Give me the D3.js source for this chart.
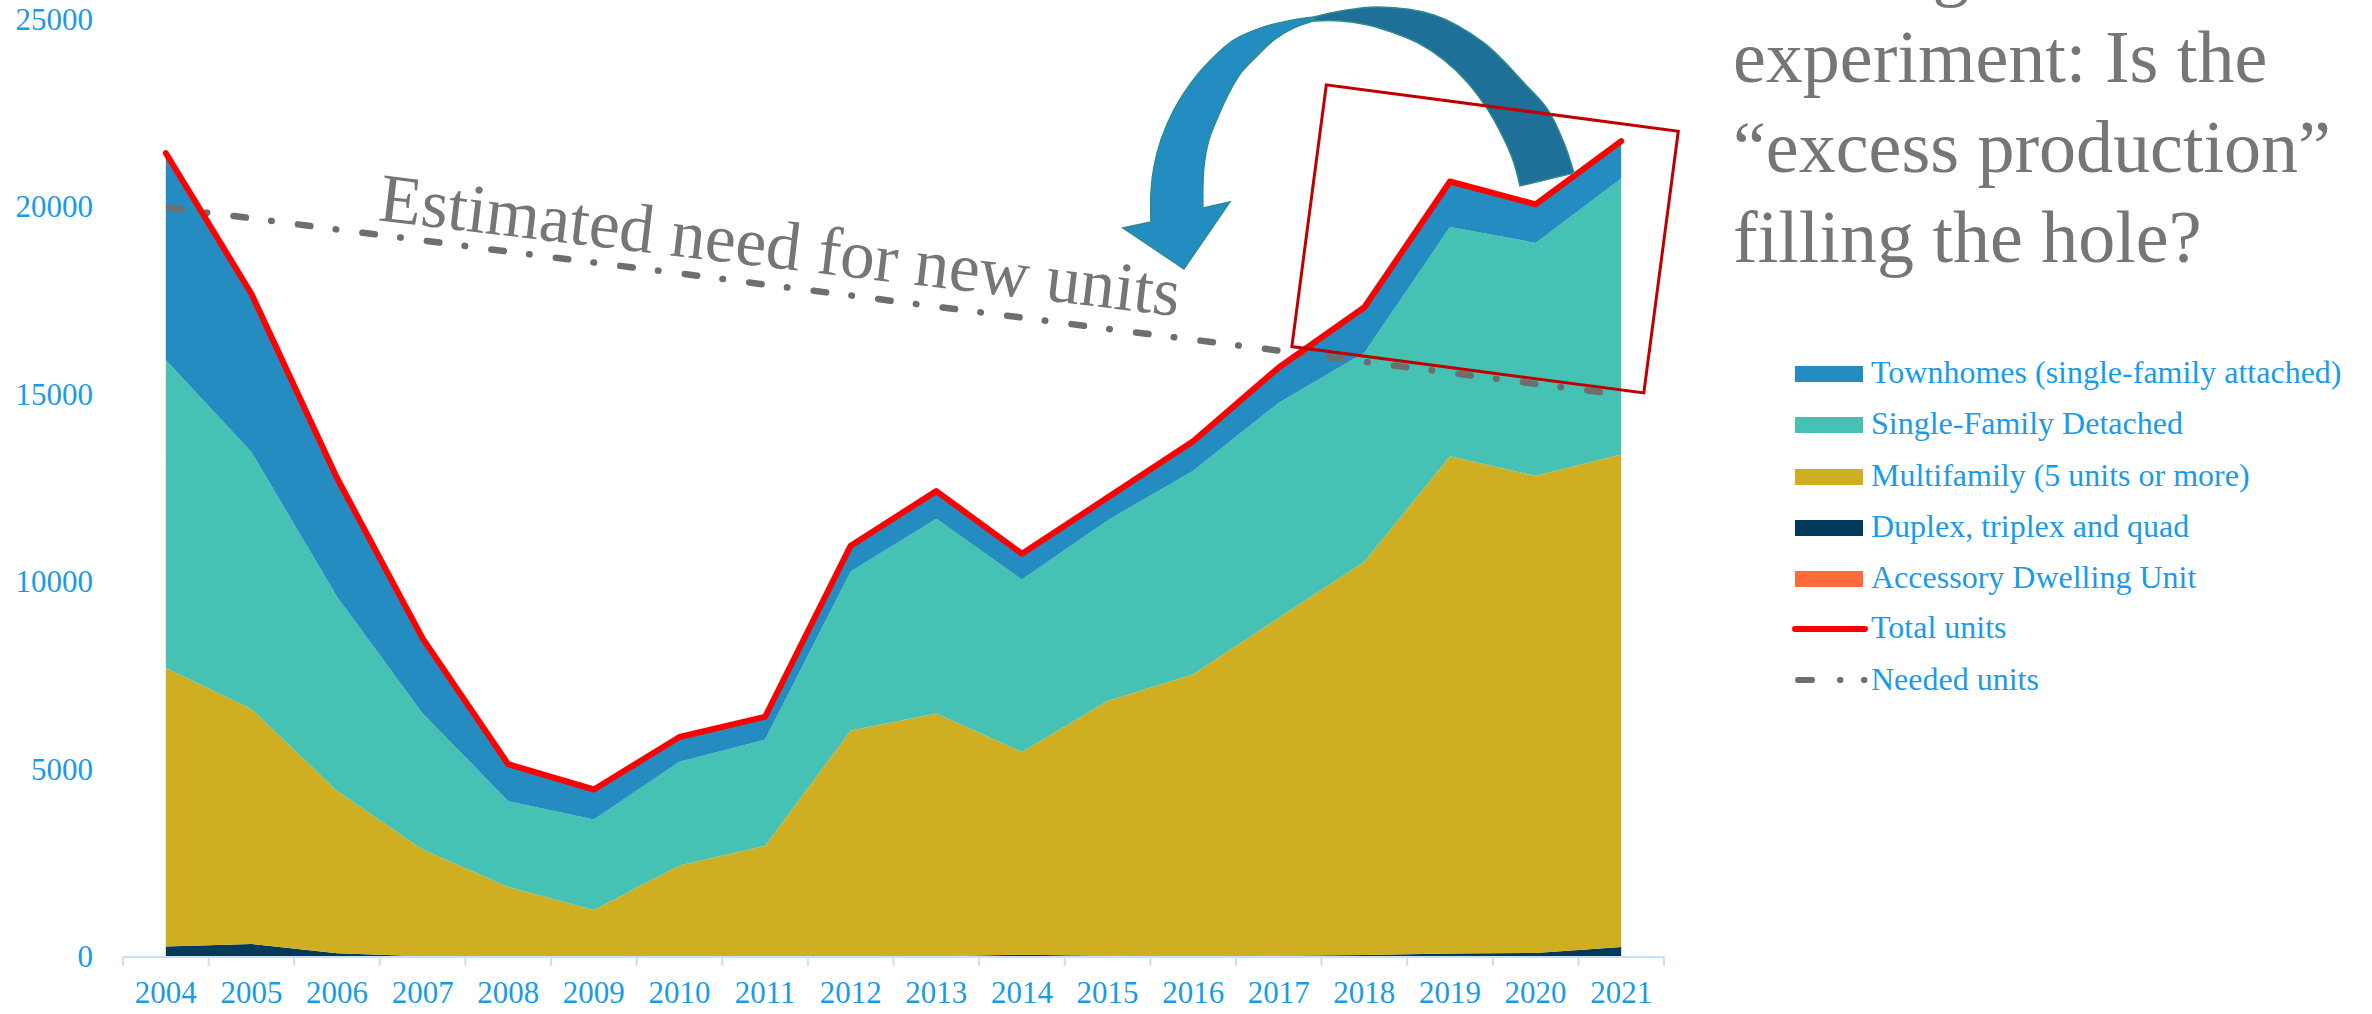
<!DOCTYPE html>
<html>
<head>
<meta charset="utf-8">
<script src="https://cdn.jsdelivr.net/npm/d3@7"></script>
<style>
  html, body { margin: 0; padding: 0; background: #fff; }
  svg { display: block; font-family: 'Liberation Serif', 'Times New Roman', serif; }
</style>
</head>
<body>
<div id="chart"></div>
<script>
// Housing units permitted per year, by type
const years = [2004, 2005, 2006, 2007, 2008, 2009, 2010, 2011, 2012,
               2013, 2014, 2015, 2016, 2017, 2018, 2019, 2020, 2021];
const townhomes    = [5520, 4220, 3170, 2000, 985, 800, 660, 610, 690, 740, 690, 610, 785, 940, 1215, 1215, 1030, 1000];
const singleFamily = [8220, 6860, 5180, 3630, 2290, 2415, 2770, 2830, 4245, 5190, 4600, 4815, 5430, 5740, 5575, 6115, 6215, 7360];
const multifamily  = [7430, 6270, 4330, 2850, 1868, 1254, 2440, 2970, 6030, 6480, 5410, 6800, 7520, 9015, 10490, 13265, 12730, 13140];
const duplex       = [280, 345, 100, 20, 0, 0, 0, 0, 10, 20, 60, 30, 20, 30, 50, 90, 100, 260];
const adu          = [0, 0, 0, 0, 0, 0, 0, 0, 0, 0, 0, 2, 3, 4, 5, 6, 8, 9];
const needed       = [20000, 19710, 19410, 19120, 18820, 18530, 18240, 17940, 17650,
                      17350, 17060, 16760, 16470, 16180, 15880, 15590, 15290, 15000];
const yTicks = [0, 5000, 10000, 15000, 20000, 25000];

const seriesKeys = ['adu', 'duplex', 'multifamily', 'singleFamily', 'townhomes'];
const colors = {
  townhomes: '#248CC1',
  singleFamily: '#46C2B4',
  multifamily: '#CFAE22',
  duplex: '#03395B',
  adu: '#FF6B3A'
};
const legendItems = [
  { key: 'townhomes', label: 'Townhomes (single-family attached)', type: 'area' },
  { key: 'singleFamily', label: 'Single-Family Detached', type: 'area' },
  { key: 'multifamily', label: 'Multifamily (5 units or more)', type: 'area' },
  { key: 'duplex', label: 'Duplex, triplex and quad', type: 'area' },
  { key: 'adu', label: 'Accessory Dwelling Unit', type: 'area' },
  { key: 'total', label: 'Total units', type: 'total' },
  { key: 'needed', label: 'Needed units', type: 'needed' }
];

const W = 2372, H = 1014;
const labelBlue = '#1A9BE8';
const gray = '#767676';

const rows = years.map((yr, i) => ({
  year: yr,
  townhomes: townhomes[i],
  singleFamily: singleFamily[i],
  multifamily: multifamily[i],
  duplex: duplex[i],
  adu: adu[i]
}));
const totals = rows.map(r => seriesKeys.reduce((s, k) => s + r[k], 0));

const svg = d3.select('#chart').append('svg')
  .attr('width', W).attr('height', H);

const x = d3.scaleBand().domain(years).range([123, 1664]).padding(0);
const xi = d3.scaleLinear()
  .domain([0, years.length - 1])
  .range([x(years[0]) + x.bandwidth() / 2, x(years[years.length - 1]) + x.bandwidth() / 2]);
const y = d3.scaleLinear().domain([0, 25000]).range([957, 20]);

// Stacked areas
const stacked = d3.stack().keys(seriesKeys)(rows);
const area = d3.area()
  .x((d, i) => xi(i))
  .y0(d => y(d[0]))
  .y1(d => y(d[1]));

svg.append('g').selectAll('path')
  .data(stacked)
  .join('path')
  .attr('fill', d => colors[d.key])
  .attr('d', area);

// X axis
const xAxis = svg.append('g');
xAxis.append('line')
  .attr('x1', x.range()[0]).attr('x2', x.range()[1])
  .attr('y1', y(0)).attr('y2', y(0))
  .attr('stroke', '#C6E2F6').attr('stroke-width', 2);
xAxis.selectAll('line.tick')
  .data(years.concat([null]))
  .join('line')
  .attr('class', 'tick')
  .attr('x1', (d, i) => x.range()[0] + i * x.bandwidth())
  .attr('x2', (d, i) => x.range()[0] + i * x.bandwidth())
  .attr('y1', y(0)).attr('y2', y(0) + 9)
  .attr('stroke', '#C6E2F6').attr('stroke-width', 2);
xAxis.selectAll('text')
  .data(years)
  .join('text')
  .attr('x', (d, i) => xi(i))
  .attr('y', 1003)
  .attr('text-anchor', 'middle')
  .attr('fill', labelBlue)
  .attr('font-size', 31)
  .text(d => d);

// Y labels
svg.append('g').selectAll('text')
  .data(yTicks)
  .join('text')
  .attr('x', 93)
  .attr('y', d => y(d) + 10)
  .attr('text-anchor', 'end')
  .attr('fill', labelBlue)
  .attr('font-size', 31)
  .text(d => d);

// Needed units (dash-dot)
const line = d3.line().x((d, i) => xi(i)).y(d => y(d));
svg.append('path')
  .datum(needed)
  .attr('fill', 'none')
  .attr('stroke', '#6E6E6E')
  .attr('stroke-width', 6.5)
  .attr('stroke-linecap', 'round')
  .attr('stroke-dasharray', '12.5,25.5,0.5,26.5')
  .attr('stroke-dashoffset', -3.25)
  .attr('d', line);

// Total units
svg.append('path')
  .datum(totals)
  .attr('fill', 'none')
  .attr('stroke', '#FF0000')
  .attr('stroke-width', 6)
  .attr('stroke-linecap', 'round')
  .attr('stroke-linejoin', 'round')
  .attr('d', line);

// Annotation: rotated text along the needed line
svg.append('text')
  .attr('transform', `translate(${xi(2.47)},${y(19660)}) rotate(6.85)`)
  .attr('fill', gray)
  .attr('font-size', 69)
  .attr('textLength', 806)
  .attr('lengthAdjust', 'spacingAndGlyphs')
  .text('Estimated need for new units');

// Annotation: curved arrow (shape outline, local to its anchor)
const ax = xi(13.96), ay = y(19800);
const loc = pts => pts.map(([px, py]) => [px - 1360, py - 215]);
const lightOuter = loc([[1313, 17], [1287, 21], [1260, 28], [1233, 40], [1210, 60], [1190, 83],
  [1173, 110], [1160, 140], [1153, 167], [1150, 193], [1150, 222]]);
const arrowHead = loc([[1122, 228], [1183, 269], [1229, 202], [1202, 208]]);
const lightInner = loc([[1202, 208], [1202, 187], [1203, 167], [1208, 140], [1217, 117], [1227, 95],
  [1240, 73], [1257, 55], [1273, 40], [1293, 28], [1313, 21]]);
const darkOuter = loc([[1313, 17], [1340, 11], [1377, 7], [1433, 15], [1483, 43], [1523, 83],
  [1547, 110], [1563, 143], [1573, 173]]);
const darkInner = loc([[1519, 186], [1512, 160], [1500, 133], [1487, 110], [1467, 83], [1443, 60],
  [1417, 43], [1393, 33], [1367, 25], [1340, 21], [1313, 21]]);
const smooth = d3.line().curve(d3.curveCatmullRom);
const cont = pts => smooth(pts).replace(/^M/, 'L');

const arrow = svg.append('g').attr('transform', `translate(${ax},${ay})`);
arrow.append('path')
  .attr('d', smooth(darkOuter) + cont(darkInner) + 'Z')
  .attr('fill', '#1E7099')
  .attr('stroke', '#2E8C8A').attr('stroke-width', 1.5);
arrow.append('path')
  .attr('d', smooth(lightOuter) + 'L' + arrowHead.join('L') + cont(lightInner) + 'Z')
  .attr('fill', '#238CC0')
  .attr('stroke', '#2E8C8A').attr('stroke-width', 1.5)
  .attr('stroke-linejoin', 'miter');

// Annotation: highlight box around recent years
svg.append('rect')
  .attr('transform', `translate(${xi(15.41)},${y(19160)}) rotate(7.5)`)
  .attr('x', -177.5).attr('y', -132)
  .attr('width', 355).attr('height', 264)
  .attr('fill', 'none')
  .attr('stroke', '#C00000')
  .attr('stroke-width', 3);

// Title text at top right (first line is cut off by the frame)
const titleLines = ['A thought', 'experiment: Is the', '\u201Cexcess production\u201D', 'filling the hole?'];
svg.append('g').selectAll('text')
  .data(titleLines)
  .join('text')
  .attr('x', 1733)
  .attr('y', (d, i) => -8 + i * 90)
  .attr('fill', gray)
  .attr('font-size', 74)
  .text(d => d);

// Legend
const legend = svg.append('g').attr('transform', 'translate(1795,0)');
const rowBase = [383, 434, 486, 537, 588, 638, 690];
legendItems.forEach((item, i) => {
  const g = legend.append('g').attr('transform', `translate(0,${rowBase[i]})`);
  if (item.type === 'area') {
    g.append('rect')
      .attr('x', 0).attr('y', -17)
      .attr('width', 68).attr('height', 16)
      .attr('fill', colors[item.key]);
  } else if (item.type === 'total') {
    g.append('line')
      .attr('x1', 0).attr('x2', 70).attr('y1', -9).attr('y2', -9)
      .attr('stroke', '#FF0000').attr('stroke-width', 6)
      .attr('stroke-linecap', 'round');
  } else {
    g.append('line')
      .attr('x1', 0).attr('x2', 70).attr('y1', -10).attr('y2', -10)
      .attr('stroke', '#6E6E6E').attr('stroke-width', 6)
      .attr('stroke-linecap', 'round')
      .attr('stroke-dasharray', '14,28,0.5,23.5,0.5,40')
      .attr('stroke-dashoffset', -3);
  }
  g.append('text')
    .attr('x', 76).attr('y', 0)
    .attr('fill', labelBlue)
    .attr('font-size', 32)
    .text(item.label);
});
</script>
</body>
</html>
